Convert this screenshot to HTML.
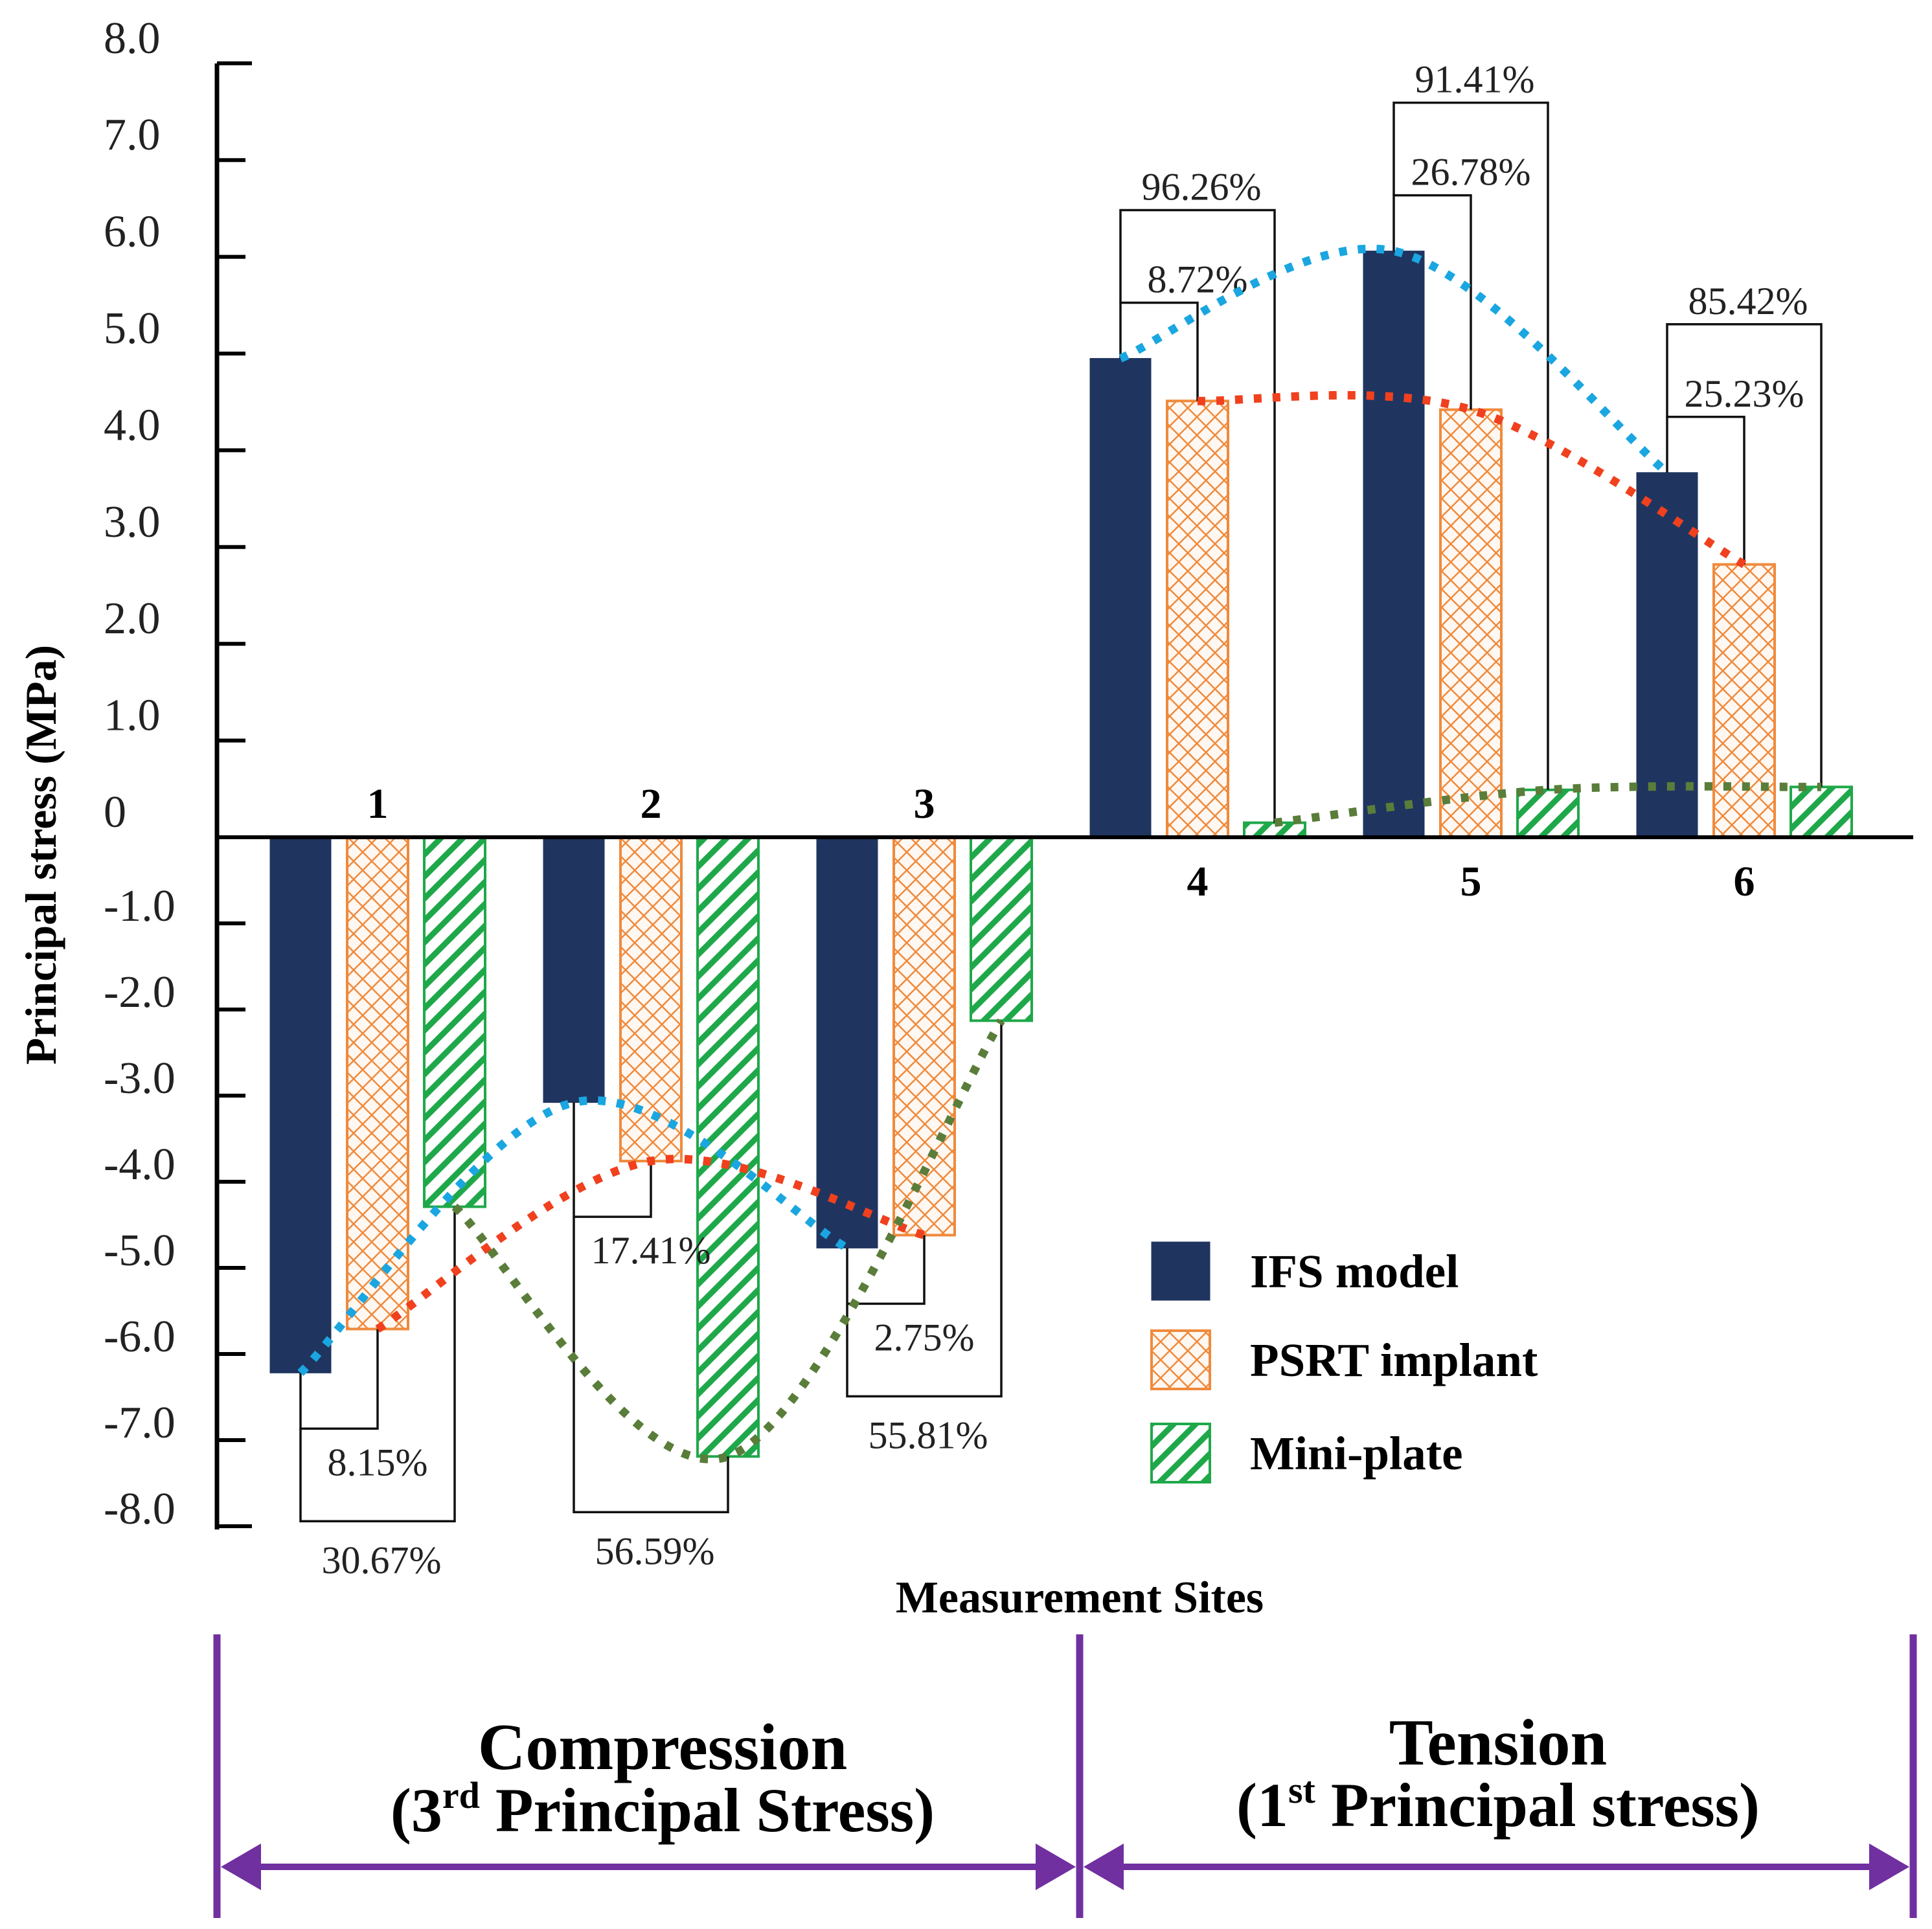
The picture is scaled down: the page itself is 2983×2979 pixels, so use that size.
<!DOCTYPE html>
<html><head><meta charset="utf-8"><style>
html,body{margin:0;padding:0;background:#fff;}
svg{display:block;font-family:"Liberation Serif",serif;}
</style></head><body>
<svg id="chart" xmlns="http://www.w3.org/2000/svg" width="2983" height="2979" viewBox="0 0 2983 2979">
<defs>
<pattern id="crossPat" patternUnits="userSpaceOnUse" width="28" height="28">
<rect width="28" height="28" fill="#fff8f2"/>
<path d="M0,0 L28,28 M28,0 L0,28" stroke="#f08a3c" stroke-width="2.5"/>
</pattern>
<pattern id="hatchPat" patternUnits="userSpaceOnUse" width="24" height="24" patternTransform="rotate(45)">
<rect width="24" height="24" fill="#fff"/>
<rect width="9" height="24" fill="#1fa84a"/>
</pattern>
</defs>
<g id="plot"></g>
</svg>
<script>
const categories=['1','2','3','4','5','6'];
const ifsValues=[-6.22,-3.08,-4.77,4.95,6.06,3.77];
const psrtValues=[-5.71,-3.76,-4.62,4.51,4.42,2.82];
const miniValues=[-4.29,-7.19,-2.13,0.15,0.49,0.52];
const innerPct=['8.15%','17.41%','2.75%','8.72%','26.78%','25.23%'];
const outerPct=['30.67%','56.59%','55.81%','96.26%','91.41%','85.42%'];
const yTickValues=[8,7,6,5,4,3,2,1,0,-1,-2,-3,-4,-5,-6,-7,-8];
const yTickLabels=['8.0','7.0','6.0','5.0','4.0','3.0','2.0','1.0','0','-1.0','-2.0','-3.0','-4.0','-5.0','-6.0','-7.0','-8.0'];
const seriesNames=['IFS model','PSRT implant','Mini-plate'];

const NS='http://www.w3.org/2000/svg';
const g=document.getElementById('plot');
const ZERO=1293, POS=149.4, NEG=133;
function yS(v){return v>=0?ZERO-v*POS:ZERO-v*NEG;}
const X0=417, GSTEP=422, SSTEP=119, BW=94;
function xL(gi,si){return X0+gi*GSTEP+si*SSTEP;}
function xC(gi,si){return xL(gi,si)+BW/2;}
function el(tag,attrs,parent){const e=document.createElementNS(NS,tag);for(const k in attrs)e.setAttribute(k,attrs[k]);(parent||g).appendChild(e);return e;}
function txt(s,attrs){const e=el('text',attrs);e.textContent=s;return e;}

let a=el('line',{x1:335,y1:98,x2:335,y2:2362,stroke:'#000','stroke-width':7});


yTickValues.forEach((v,i)=>{
  const y=yS(v);
  if(v!==0){
    const len=(i===0||i===yTickValues.length-1)?54:44;
    const t=el('line',{x1:335,y1:y,x2:335+len,y2:y,stroke:'#000','stroke-width':6});
    
    
  }
  const ly=v>=0?y-40:y-28;
  const l=txt(yTickLabels[i],{x:160,y:ly+24,'font-size':70,fill:'#222'});
  
  
});
const yt=txt('Principal stress (MPa)',{x:0,y:0,'font-size':68,'font-weight':'bold','text-anchor':'middle',transform:'translate(86,1320) rotate(-90)'});



const series=[ifsValues,psrtValues,miniValues];
const fills=['#1f3560','url(#crossPat)','url(#hatchPat)'];
const strokes=['#1f3560','#f08a3c','#1fa84a'];
const barNames=['bar-ifs','bar-psrt','bar-mini'];
series.forEach((vals,si)=>{
  vals.forEach((v,gi)=>{
    const y1=yS(v), top=Math.min(y1,ZERO), h=Math.abs(y1-ZERO);
    const r=el('rect',{x:xL(gi,si),y:top,width:BW,height:h,fill:fills[si],stroke:strokes[si],'stroke-width':si?4:1});
    
    
  });
});
const zl=el('line',{x1:335,y1:ZERO,x2:2954,y2:ZERO,stroke:'#000','stroke-width':6});



categories.forEach((c,gi)=>{
  const neg=ifsValues[gi]<0;
  const t=txt(c,{x:xC(gi,1),y:neg?ZERO-30:ZERO+90,'font-size':66,'font-weight':'bold','text-anchor':'middle'});
  
  
});

categories.forEach((c,gi)=>{
  const neg=ifsValues[gi]<0, s=neg?1:-1;
  const yI=yS(ifsValues[gi]), yP=yS(psrtValues[gi]), yM=yS(miniValues[gi]);
  const ext2=neg?Math.max(yI,yP):Math.min(yI,yP);
  const extAll=neg?Math.max(yI,yP,yM):Math.min(yI,yP,yM);
  const inner=ext2+s*86;
  let outer=inner+s*143;
  const alt=extAll+s*86;
  if(neg?alt>outer:alt<outer) outer=alt;
  const xi=xC(gi,0), xp=xC(gi,1), xm=xC(gi,2);
  const p1=el('polyline',{points:`${xi},${yI} ${xi},${inner} ${xp},${inner} ${xp},${yP}`,fill:'none',stroke:'#111','stroke-width':3.5});
  
  
  const p2=el('polyline',{points:`${xi},${inner} ${xi},${outer} ${xm},${outer} ${xm},${yM}`,fill:'none',stroke:'#111','stroke-width':3.5});
  
  
  const t1=txt(innerPct[gi],{x:xp,y:neg?inner+72:inner-16,'font-size':60,'text-anchor':'middle',fill:'#222'});
  
  
  const t2=txt(outerPct[gi],{x:xp+6,y:neg?outer+80:outer-16,'font-size':60,'text-anchor':'middle',fill:'#222'});
  
  
});

function spline(pts){
  let d=`M${pts[0][0]},${pts[0][1]}`;
  for(let i=0;i<pts.length-1;i++){
    const p0=pts[i-1]||pts[i],p1=pts[i],p2=pts[i+1],p3=pts[i+2]||p2;
    const c1=[p1[0]+(p2[0]-p0[0])/6,p1[1]+(p2[1]-p0[1])/6];
    const c2=[p2[0]-(p3[0]-p1[0])/6,p2[1]-(p3[1]-p1[1])/6];
    d+=` C${c1[0]},${c1[1]} ${c2[0]},${c2[1]} ${p2[0]},${p2[1]}`;
  }
  return d;
}
const curveColors=['#1aa6e0','#f0401e','#5a7d3a'];
const curveNames=['ifs-trend','psrt-trend','mini-trend'];
series.forEach((vals,si)=>{
  [[0,1,2],[3,4,5]].forEach((grp,k)=>{
    const pts=grp.map(gi=>[xC(gi,si),yS(vals[gi])]);
    const p=el('path',{d:spline(pts),fill:'none',stroke:curveColors[si],'stroke-width':13,'stroke-dasharray':'12 17'});
    
    
  });
});

const legY=[1918,2055,2199];
seriesNames.forEach((n,si)=>{
  const r=el('rect',{x:1778,y:legY[si],width:90,height:90,fill:fills[si],stroke:strokes[si],'stroke-width':si?4:1});
  
  
  const t=txt(n,{x:1930,y:legY[si]+70,'font-size':73,'font-weight':'bold'});
  
  
});

const xt=txt('Measurement Sites',{x:1667,y:2490,'font-size':70,'font-weight':'bold','text-anchor':'middle'});



const PUR='#7030a0';
[335,1667,2954].forEach(x=>{
  const l=el('line',{x1:x,y1:2524,x2:x,y2:2962,stroke:PUR,'stroke-width':11});
  
  
});
function dblArrow(x1,x2,name){
  const y=2883;
  const l=el('line',{x1:x1+60,y1:y,x2:x2-60,y2:y,stroke:PUR,'stroke-width':10});
  
  
  const h1=el('polygon',{points:`${x1},${y} ${x1+62},${y-36} ${x1+62},${y+36}`,fill:PUR});
  
  
  const h2=el('polygon',{points:`${x2},${y} ${x2-62},${y-36} ${x2-62},${y+36}`,fill:PUR});
  
  
}
dblArrow(341,1661,'compression');
dblArrow(1673,2948,'tension');
</script>
<svg style="position:absolute;left:0;top:0" width="2983" height="2979">
<text x="1023" y="2732" font-family="Liberation Serif, serif" font-size="102" font-weight="bold" text-anchor="middle">Compression</text>
<text x="1023" y="2828" font-family="Liberation Serif, serif" font-size="96" font-weight="bold" text-anchor="middle">(3<tspan font-size="58" dy="-36">rd</tspan><tspan dy="36"> Principal Stress)</tspan></text>
<text x="2313" y="2725" font-family="Liberation Serif, serif" font-size="102" font-weight="bold" text-anchor="middle">Tension</text>
<text x="2313" y="2820" font-family="Liberation Serif, serif" font-size="96" font-weight="bold" text-anchor="middle">(1<tspan font-size="58" dy="-36">st</tspan><tspan dy="36"> Principal stress)</tspan></text>
</svg>
</body></html>
